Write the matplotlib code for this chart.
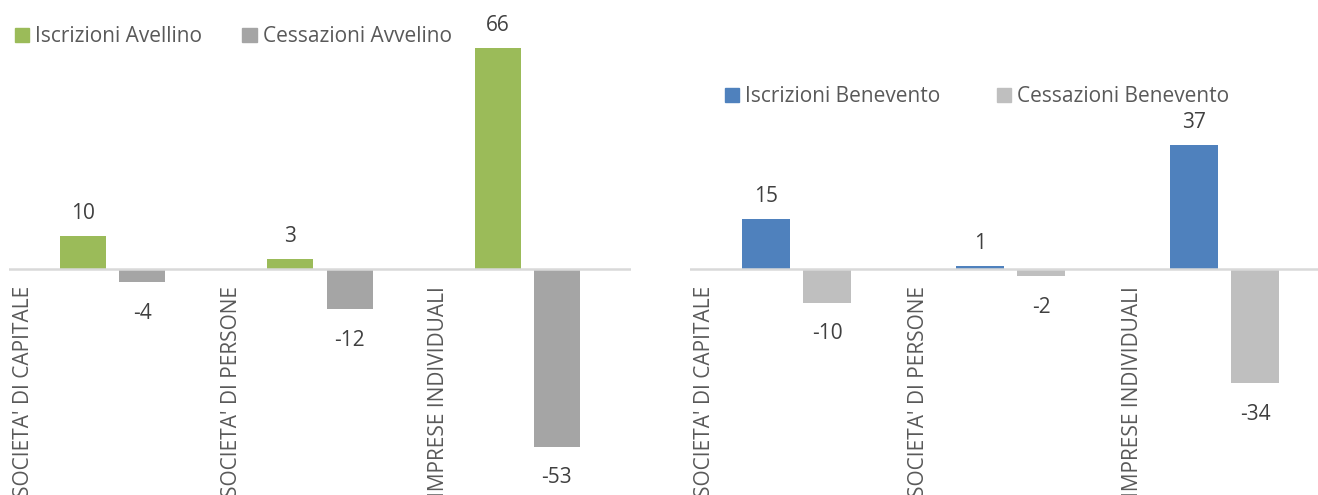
import numpy as np
import matplotlib.pyplot as plt
from matplotlib.patches import Patch

plt.rcParams['font.family'] = ['Open Sans', 'DejaVu Sans']

categories = ["SOCIETA' DI CAPITALE", "SOCIETA' DI PERSONE", "IMPRESE INDIVIDUALI"]

iscrizioni_avellino = [10, 3, 66]
cessazioni_avellino = [-4, -12, -53]
iscrizioni_benevento = [15, 1, 37]
cessazioni_benevento = [-10, -2, -34]

W, H = 1318, 495
fig = plt.figure(figsize=(W / 100, H / 100), dpi=100)

text_col = '#404040'
label_col = '#595959'
fs = 15


def panel(ax, pos_vals, neg_vals, pos_col, neg_col, names, leg_xy, colspace):
    x = np.arange(len(categories))
    bw = 0.222
    off = 0.1425
    ax.bar(x - off, pos_vals, bw, color=pos_col, zorder=2)
    ax.bar(x + off, neg_vals, bw, color=neg_col, zorder=2)
    ax.axhline(0, color='#D9D9D9', lw=1.8, zorder=3)

    for xi, v in zip(x - off, pos_vals):
        ax.annotate(str(v), (xi, v), xytext=(0, 12), textcoords='offset points',
                    ha='center', va='baseline', fontsize=fs, color=text_col)
    for xi, v in zip(x + off, neg_vals):
        ax.annotate(str(v), (xi, v), xytext=(0, -15), textcoords='offset points',
                    ha='center', va='top', fontsize=fs, color=text_col)

    # category names sit at the left edge of each slot, rotated
    for xi, name in zip(x, categories):
        ax.annotate(name, (xi - 0.428, 0), xytext=(0, -12), textcoords='offset points',
                    rotation=90, ha='center', va='top', fontsize=fs,
                    color=label_col, annotation_clip=False)

    ax.set_xlim(-0.5, 2.5)
    ax.set_ylim(-226 / 3.35, 269 / 3.35)
    ax.axis('off')

    handles = [Patch(color=pos_col), Patch(color=neg_col)]
    ax.legend(handles, names, loc='upper left', bbox_to_anchor=leg_xy,
              bbox_transform=fig.transFigure, ncol=2, frameon=False,
              borderpad=0, borderaxespad=0, handlelength=0.68, handleheight=0.68,
              handletextpad=0.3, columnspacing=colspace, fontsize=fs,
              labelcolor=label_col)


ax1 = fig.add_axes([9 / W, 0, 622 / W, 1])
panel(ax1, iscrizioni_avellino, cessazioni_avellino, '#9BBB59', '#A5A5A5',
      ['Iscrizioni Avellino', 'Cessazioni Avvelino'], (15 / W, 1 - 26 / H), 1.92)

ax2 = fig.add_axes([689.5 / W, 0, 642 / W, 1])
panel(ax2, iscrizioni_benevento, cessazioni_benevento, '#4F81BD', '#BFBFBF',
      ['Iscrizioni Benevento', 'Cessazioni Benevento'], (725 / W, 1 - 86 / H), 2.7)

fig.savefig('out.png', dpi=100, facecolor='white')
